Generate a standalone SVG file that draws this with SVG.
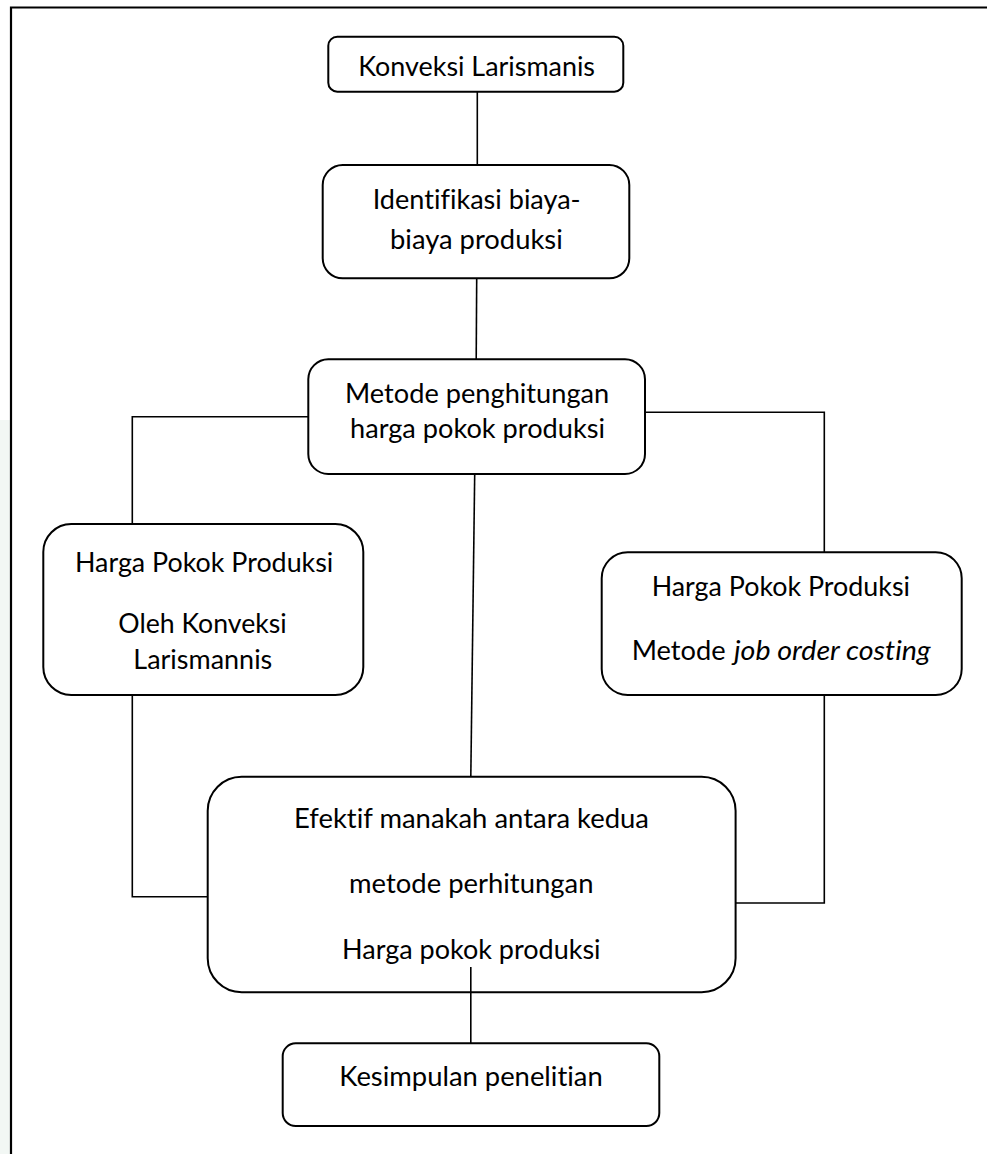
<svg xmlns="http://www.w3.org/2000/svg" width="987" height="1154" viewBox="0 0 987 1154">
  <style>
    .box { fill: #ffffff; stroke: #000000; stroke-width: 2; }
    .conn { fill: none; stroke: #000000; stroke-width: 1.6; }
    .lbl { font-family: "Lato", "Open Sans", "Liberation Sans", sans-serif; font-size: 27px; fill: #000000; font-variant-ligatures: none; }
    .it { font-style: italic; }
  </style>
  <rect x="0" y="0" width="987" height="1154" fill="#ffffff"/>
  <rect x="0" y="420" width="10" height="734" fill="#f2f7f4"/>
  <g id="frame">
    <path d="M11,1154 V7.5 H987" fill="none" stroke="#000" stroke-width="2.2"/>
  </g>
  <g id="connectors">
    <line class="conn" x1="477.3" y1="91.7" x2="477.3" y2="165"/>
    <line class="conn" x1="476.7" y1="278.3" x2="476.2" y2="359.3"/>
    <polyline class="conn" points="308.3,416.7 132.3,416.7 132.3,524"/>
    <polyline class="conn" points="645,412.3 824.3,412.3 824.3,552.3"/>
    <line class="conn" x1="474.7" y1="474" x2="470.8" y2="776.8"/>
    <polyline class="conn" points="132.3,695 132.3,896.8 207.7,896.8"/>
    <polyline class="conn" points="824.3,695 824.3,903 735.6,903"/>
  </g>
  <g id="n1">
    <rect class="box" x="328.3" y="36.7" width="295" height="55" rx="9"/>
    <text class="lbl" x="358.3" y="76" textLength="236.7" lengthAdjust="spacingAndGlyphs">Konveksi Larismanis</text>
  </g>
  <g id="n2">
    <rect class="box" x="322.7" y="165" width="306.6" height="113.3" rx="20"/>
    <text class="lbl" x="372.7" y="209.3" textLength="208" lengthAdjust="spacingAndGlyphs">Identifikasi biaya-</text>
    <text class="lbl" x="390" y="249.3" textLength="172.7" lengthAdjust="spacingAndGlyphs">biaya produksi</text>
  </g>
  <g id="n3">
    <rect class="box" x="308.3" y="359.3" width="336.7" height="114.7" rx="20"/>
    <text class="lbl" x="345" y="403.3" textLength="264.3" lengthAdjust="spacingAndGlyphs">Metode penghitungan</text>
    <text class="lbl" x="350" y="438.3" textLength="255" lengthAdjust="spacingAndGlyphs">harga pokok produksi</text>
  </g>
  <g id="n4">
    <rect class="box" x="43.3" y="524" width="320" height="171" rx="28"/>
    <text class="lbl" x="75" y="571.7" textLength="258.3" lengthAdjust="spacingAndGlyphs">Harga Pokok Produksi</text>
    <text class="lbl" x="118.3" y="633.3" textLength="168.4" lengthAdjust="spacingAndGlyphs">Oleh Konveksi</text>
    <text class="lbl" x="133.3" y="669.3" textLength="139" lengthAdjust="spacingAndGlyphs">Larismannis</text>
  </g>
  <g id="n5">
    <rect class="box" x="601.7" y="552.3" width="360" height="142.7" rx="26"/>
    <text class="lbl" x="651.7" y="596" textLength="258.3" lengthAdjust="spacingAndGlyphs">Harga Pokok Produksi</text>
    <text class="lbl" x="631.7" y="660" textLength="93.9" lengthAdjust="spacingAndGlyphs">Metode</text>
    <text class="lbl it" x="734" y="660" textLength="196.7" lengthAdjust="spacingAndGlyphs">job order costing</text>
  </g>
  <g id="n6">
    <rect class="box" x="207.7" y="776.8" width="527.9" height="215.4" rx="34"/>
    <text class="lbl" x="294" y="827.7" textLength="355" lengthAdjust="spacingAndGlyphs">Efektif manakah antara kedua</text>
    <text class="lbl" x="349" y="893.3" textLength="244.5" lengthAdjust="spacingAndGlyphs">metode perhitungan</text>
    <text class="lbl" x="342" y="959.2" textLength="258.6" lengthAdjust="spacingAndGlyphs">Harga pokok produksi</text>
    <line class="conn" x1="470.8" y1="967" x2="470.8" y2="1043.3"/>
  </g>
  <g id="n7">
    <rect class="box" x="282.7" y="1043.3" width="376.6" height="82.7" rx="13"/>
    <text class="lbl" x="339.3" y="1086" textLength="263.4" lengthAdjust="spacingAndGlyphs">Kesimpulan penelitian</text>
  </g>
</svg>
